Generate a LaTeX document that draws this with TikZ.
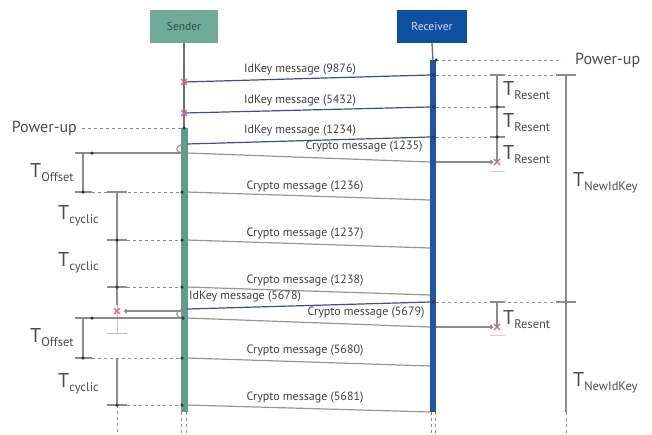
\documentclass[tikz,border=0pt]{standalone}
\usepackage{fontspec}
\setmainfont{PT Sans}
\usetikzlibrary{arrows.meta}
\definecolor{sgreen}{HTML}{6FAB98}
\definecolor{sbar}{HTML}{5E9E8A}
\definecolor{rblue}{HTML}{0F4F9F}
\definecolor{rbar}{HTML}{1E56A5}
\definecolor{idk}{HTML}{3C4C9C}
\definecolor{cry}{HTML}{8C9C94}
\definecolor{gl}{HTML}{8C8C8C}
\definecolor{xred}{HTML}{E0607A}
\newcommand{\Tsub}[1]{{\fontsize{20}{20}\selectfont T}\raisebox{-4pt}{\fontsize{12.5}{13}\selectfont #1}}
\tikzset{
  lifebox/.style={draw=none, minimum width=68pt, minimum height=33pt, font=\fontsize{11.5}{12}\selectfont, inner sep=0pt},
  idmsg/.style={draw=idk, line width=1.2pt},
  crmsg/.style={draw=cry, line width=1.2pt},
  tickl/.style={draw=gl, line width=1.1pt},
  dotl/.style={draw=gl, dash pattern=on 2.5pt off 3.5pt, line width=1pt},
  mlabel/.style={font=\fontsize{12}{13}\selectfont, text=black!75, inner sep=1pt},
  tlabel/.style={text=black!70, inner sep=0pt, anchor=west},
  pwr/.style={font=\fontsize{16}{17}\selectfont, text=black!70, inner sep=0pt},
  dotpt/.style={circle, fill=black!80, inner sep=0pt, minimum size=3.5pt},
  lostx/.pic={\draw[xred, line width=1.1pt] (-3,-3)--(3,3) (-3,3)--(3,-3);}
}
\begin{document}
\begin{tikzpicture}[x=1pt,y=-1pt]
\useasboundingbox (0,0) rectangle (652,434);
% lifeline heads
\node[lifebox, fill=sgreen, text=sgreen!45!black] (snd) at (184,26.5) {Sender};
\node[lifebox, fill=rblue, text=blue!15!white, minimum width=70pt] (rcv) at (432,26.5) {Receiver};
% lifelines
\coordinate (sP) at (184,128);
\coordinate (rP) at (433,60);
\draw[gl!80!black, line width=1.4pt] (snd.south) -- (sP);
\draw[gl!80!black, line width=1.4pt] (rcv.south) -- (rP);
\fill[sbar] (181,128) rectangle (187.5,412);
\fill[rbar] (429.5,60) rectangle (436,412);
\draw[dotl] (181.5,412) -- (181.5,434);
\draw[dotl] (186.5,412) -- (186.5,434);
\draw[dotl] (431,412) -- (431,434);
\draw[dotl] (435,412) -- (435,434);

% ---------- receiver power-up and T_Resent ----------
\node[pwr, anchor=west] (rpw) at (575,60) {Power-up};
\draw[dotl] (436,60) -- (562,60);
\node[dotpt] at (436,60) {};
\coordinate (rt0) at (497,75);
\coordinate (rt1) at (497,107);
\coordinate (rt2) at (497,137);
\coordinate (rx1) at (497,162);
\coordinate (nk0) at (566,75);
\coordinate (nk1) at (566,302);
\coordinate (nkE) at (566,412);
\draw[dotl] (436,75) -- (575,75);
\draw[dotl] (436,107) -- (505,107);
\draw[dotl] (436,137) -- (505,137);
\draw[tickl] (490,75) -- (505,75) (490,107) -- (505,107) (490,137) -- (505,137);
\draw[tickl] (rt0) -- (rx1);
\node[dotpt] at (rt1) {};
\node[dotpt] at (rt2) {};
\draw[draw=xred!40, line width=0.9pt] (490,171) -- (505,171);
\node[tlabel] at (503,91) {\Tsub{Resent}};
\node[tlabel] at (503,123) {\Tsub{Resent}};
\node[tlabel] at (503,155) {\Tsub{Resent}};
% T_NewIdKey
\draw[tickl] (556,75) -- (576,75);
\draw[tickl] (nk0) -- (nkE);
\draw[dotl] (nkE) -- (566,434);
\node[tlabel] at (573,183) {\Tsub{NewIdKey}};
\node[tlabel] at (573,383) {\Tsub{NewIdKey}};

% ---------- IdKey messages lost at sender ----------
\coordinate (r1) at (430,75);  \coordinate (s1) at (184,82);
\coordinate (r2) at (430,107); \coordinate (s2) at (184,113);
\coordinate (r3) at (430,137); \coordinate (s3) at (187,144);
\draw[idmsg] (r1) -- (s1);
\draw[idmsg] (r2) -- (s2);
\draw[idmsg] (r3) -- (s3);
\pic at (s1) {lostx};
\pic at (s2) {lostx};
\node[dotpt] at (433,75) {};
\node[dotpt] at (433,107) {};
\node[dotpt] at (433,137) {};
\node[mlabel] at (300,70) {IdKey message (9876)};
\node[mlabel] at (300,101) {IdKey message (5432)};
\node[mlabel] at (300,131) {IdKey message (1234)};

% ---------- sender power-up ----------
\node[pwr, anchor=east] (spw) at (77,128) {Power-up};
\draw[dotl] (82,128) -- (sP);
\node[dotpt] at (sP) {};

% ---------- first crypto series ----------
\coordinate (sc0) at (184,153);
\coordinate (lc0) at (75,153);
\draw[gl, line width=1.1pt] (s3) .. controls (174,144) and (174,153) .. (sc0);
\draw[gl, line width=1.2pt] (sc0) -- (lc0);
\node[dotpt] at (92,153) {};
\coordinate (c0s) at (187,153); \coordinate (c0r) at (430,162);
\draw[crmsg] (c0s) -- (c0r);
\node[mlabel] at (364,147) {Crypto message (1235)};
\draw[gl, line width=1.2pt, -{Circle[length=4pt]}] (436,162) -- (493,162);
\pic at (rx1) {lostx};
% T_Offset
\draw[tickl] (83,153) -- (83,192);
\draw[tickl] (75,192) -- (92,192);
\node[dotpt] at (83,192) {};
\node[tlabel] at (30,173) {\Tsub{Offset}};
% cyclic ticks
\draw[dotl] (92,192) -- (181,192);
\draw[dotl] (127,240) -- (181,240);
\draw[dotl] (127,287) -- (181,287);
\draw[tickl] (107,192) -- (127,192) (107,240) -- (127,240) (107,287) -- (127,287);
\draw[tickl] (117,192) -- (117,305);
\node[dotpt] at (117,240) {};
\node[dotpt] at (117,287) {};
\node[dotpt] at (182,192) {};
\node[dotpt] at (182,240) {};
\node[dotpt] at (182,287) {};
\node[tlabel] at (58,216) {\Tsub{cyclic}};
\node[tlabel] at (58,263) {\Tsub{cyclic}};
\coordinate (c1s) at (187,192); \coordinate (c1r) at (430,200);
\coordinate (c2s) at (187,240); \coordinate (c2r) at (430,248);
\coordinate (c3s) at (187,287); \coordinate (c3r) at (430,295);
\draw[crmsg] (c1s) -- (c1r);
\draw[crmsg] (c2s) -- (c2r);
\draw[crmsg] (c3s) -- (c3r);
\node[mlabel] at (305,187) {Crypto message (1236)};
\node[mlabel] at (305,234) {Crypto message (1237)};
\node[mlabel] at (305,281) {Crypto message (1238)};

% ---------- new IdKey ----------
\coordinate (r4) at (430,302); \coordinate (s4) at (187,309);
\draw[idmsg] (r4) -- (s4);
\node[mlabel] at (245,297) {IdKey message (5678)};
\draw[dotl] (436,302) -- (576,302);
\node[dotpt] at (433,302) {};
\node[dotpt] at (nk1) {};
\draw[tickl] (556,302) -- (576,302);
\draw[tickl] (490,302) -- (505,302);
% sender-side resend cut
\coordinate (sx) at (117,311);
\draw[gl, line width=1.2pt, -{Circle[length=4pt]}] (183,311) -- (124,311);
\draw[draw=xred!50, line width=0.9pt] (117,305) -- (117,333);
\pic at (sx) {lostx};
\draw[draw=gl!60, line width=0.9pt] (107,333) -- (127,333);
% hook and second offset
\coordinate (sc4) at (184,318);
\draw[gl, line width=1.1pt] (s4) .. controls (174,309) and (174,318) .. (sc4);
\draw[gl, line width=1.2pt] (sc4) -- (75,318);
\node[dotpt] at (92,318) {};
\node[dotpt] at (183,318) {};
\coordinate (c4s) at (187,318); \coordinate (c4r) at (430,327);
\draw[crmsg] (c4s) -- (c4r);
\node[mlabel] at (366,313) {Crypto message (5679)};
\coordinate (rx2) at (497,327);
\draw[gl, line width=1.2pt, -{Circle[length=4pt]}] (436,327) -- (493,327);
\draw[tickl] (497,302) -- (rx2);
\pic at (rx2) {lostx};
\draw[draw=xred!40, line width=0.9pt] (490,335) -- (505,335);
\node[tlabel] at (503,320) {\Tsub{Resent}};
\draw[tickl] (83,318) -- (83,358);
\draw[tickl] (75,358) -- (92,358);
\node[dotpt] at (83,358) {};
\node[tlabel] at (30,338) {\Tsub{Offset}};
\draw[dotl] (92,358) -- (181,358);
\draw[dotl] (127,405) -- (181,405);
\draw[tickl] (107,405) -- (127,405);
\draw[tickl] (117,358) -- (117,405);
\draw[dotl] (117,405) -- (117,434);
\node[dotpt] at (117,405) {};
\node[dotpt] at (182,358) {};
\node[dotpt] at (182,405) {};
\node[tlabel] at (58,384) {\Tsub{cyclic}};
\coordinate (c5s) at (187,358); \coordinate (c5r) at (430,366);
\coordinate (c6s) at (187,405); \coordinate (c6r) at (430,412);
\draw[crmsg] (c5s) -- (c5r);
\draw[crmsg] (c6s) -- (c6r);
\node[mlabel] at (305,351) {Crypto message (5680)};
\node[mlabel] at (305,398) {Crypto message (5681)};
\end{tikzpicture}
\end{document}
